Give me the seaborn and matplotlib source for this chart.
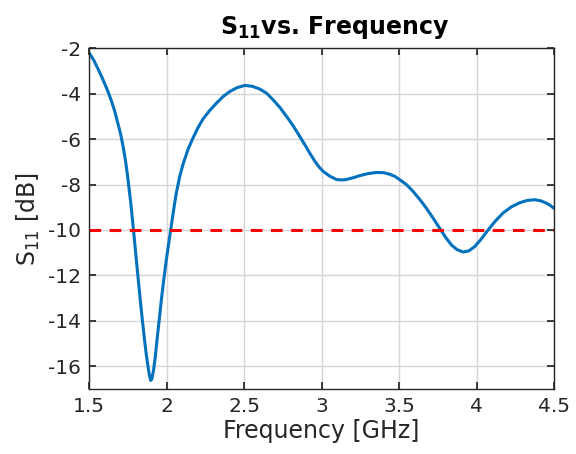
import numpy as np
import pandas as pd
import matplotlib
matplotlib.use("Agg")
import matplotlib.pyplot as plt
import seaborn as sns

# =========================
# DATA
# =========================
freq_ghz = [1.500, 1.530, 1.558, 1.580, 1.601, 1.623, 1.645, 1.666, 1.687, 1.704,
            1.720, 1.735, 1.748, 1.769, 1.784, 1.795, 1.806, 1.818, 1.831, 1.845,
            1.859, 1.870, 1.881, 1.890, 1.898, 1.906, 1.917, 1.928, 1.939, 1.953,
            1.967, 1.983, 1.999, 2.015, 2.030, 2.042, 2.053, 2.064, 2.085, 2.107,
            2.139, 2.171, 2.203, 2.235, 2.278, 2.322, 2.365, 2.408, 2.455, 2.505,
            2.553, 2.601, 2.645, 2.687, 2.730, 2.774, 2.817, 2.859, 2.892, 2.924,
            2.954, 2.984, 3.010, 3.050, 3.096, 3.130, 3.160, 3.205, 3.247, 3.300,
            3.354, 3.400, 3.440, 3.475, 3.505, 3.550, 3.590, 3.634, 3.666, 3.698,
            3.733, 3.767, 3.803, 3.838, 3.875, 3.913, 3.950, 3.988, 4.030, 4.074,
            4.122, 4.171, 4.225, 4.279, 4.327, 4.375, 4.415, 4.450, 4.475, 4.500]
s11_db = [-2.20, -2.52, -2.91, -3.23, -3.56, -3.92, -4.33, -4.78, -5.33, -5.78,
          -6.33, -6.93, -7.58, -8.78, -9.80, -10.57, -11.35, -12.20, -13.10, -14.02,
          -14.88, -15.50, -16.03, -16.40, -16.62, -16.55, -16.14, -15.55, -14.82, -13.95,
          -13.06, -12.15, -11.30, -10.55, -9.85, -9.30, -8.80, -8.35, -7.65, -7.10,
          -6.45, -5.95, -5.50, -5.12, -4.75, -4.42, -4.13, -3.91, -3.74, -3.64,
          -3.68, -3.80, -3.98, -4.27, -4.60, -5.00, -5.42, -5.88, -6.25, -6.62,
          -6.95, -7.23, -7.42, -7.62, -7.78, -7.80, -7.78, -7.70, -7.61, -7.52,
          -7.47, -7.48, -7.55, -7.65, -7.79, -8.02, -8.30, -8.66, -8.95, -9.26,
          -9.62, -9.98, -10.35, -10.66, -10.87, -10.97, -10.92, -10.73, -10.40, -10.00,
          -9.60, -9.25, -8.98, -8.80, -8.70, -8.67, -8.72, -8.82, -8.92, -9.05]
threshold_db = -10

x_ticks = [1.5, 2, 2.5, 3, 3.5, 4, 4.5]
x_tick_labels = ["1.5", "2", "2.5", "3", "3.5", "4", "4.5"]
y_ticks = [-16, -14, -12, -10, -8, -6, -4, -2]

df = pd.DataFrame({"freq": freq_ghz, "s11": s11_db})

# =========================
# STYLE
# =========================
sns.set_theme(style="ticks")
plt.rcParams["font.family"] = ["DejaVu Sans"]
plt.rcParams["mathtext.default"] = "regular"
plt.rcParams["axes.unicode_minus"] = False
axis_color = "#262626"

# =========================
# FIGURE
# =========================
fig = plt.figure(figsize=(5.76, 4.54), dpi=100)
ax = fig.add_axes([0.1545, 0.143, 0.8075, 0.751])

sns.lineplot(data=df, x="freq", y="s11", color="#0072BD", linewidth=2.2, ax=ax)
ax.axhline(threshold_db, color="red", linestyle=(0, (3.8, 2.8)), linewidth=2.2)

ax.set_xlim(1.5, 4.5)
ax.set_ylim(-17, -2)
ax.set_xticks(x_ticks)
ax.set_xticklabels(x_tick_labels)
ax.set_yticks(y_ticks)

ax.grid(True, color="#d6d6d6", linewidth=1.0)
ax.set_axisbelow(True)
for sp in ax.spines.values():
    sp.set_visible(True)
    sp.set_color(axis_color)
    sp.set_linewidth(1.0)
ax.tick_params(direction="in", top=True, right=True, length=5,
               labelsize=14.5, colors=axis_color, labelcolor=axis_color, pad=6)

ax.set_xlabel("Frequency [GHz]", fontsize=17, color=axis_color, labelpad=2)
ax.set_ylabel("S$_{11}$ [dB]", fontsize=17, color=axis_color, labelpad=4)
ax.set_title(r"$\mathbf{S}_{\mathbf{11}}$vs. Frequency", fontsize=17,
             fontweight="bold", color="black", pad=10, x=0.527)

plt.savefig("out.png", dpi=100)
